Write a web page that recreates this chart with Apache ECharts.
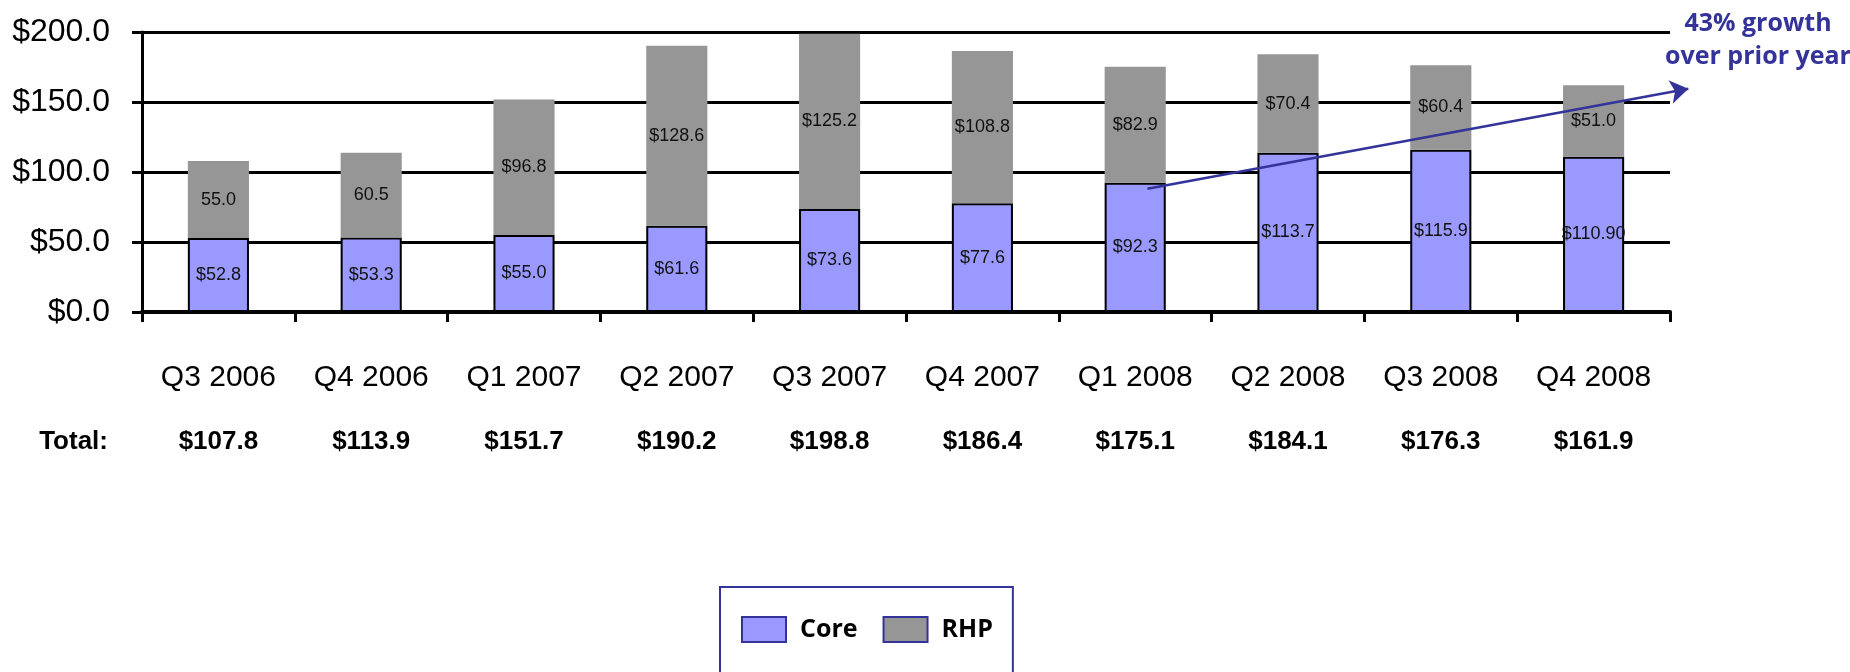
<!DOCTYPE html>
<html>
<head>
<meta charset="utf-8">
<script src="https://cdn.jsdelivr.net/npm/echarts@6/dist/echarts.min.js"></script>
<style>
html,body{margin:0;padding:0;background:#fff;}
#chart{width:1850px;height:672px;}
</style>
</head>
<body>
<div id="chart"></div>
<script>
const categories = ['Q3 2006','Q4 2006','Q1 2007','Q2 2007','Q3 2007','Q4 2007','Q1 2008','Q2 2008','Q3 2008','Q4 2008'];
const coreValues = [52.8, 53.3, 55.0, 61.6, 73.6, 77.6, 92.3, 113.7, 115.9, 110.9];
const rhpValues = [55.0, 60.5, 96.8, 128.6, 125.2, 108.8, 82.9, 70.4, 60.4, 51.0];
const coreLabels = ['$52.8','$53.3','$55.0','$61.6','$73.6','$77.6','$92.3','$113.7','$115.9','$110.90'];
const rhpLabels = ['55.0','60.5','$96.8','$128.6','$125.2','$108.8','$82.9','$70.4','$60.4','$51.0'];
const totalLabels = ['$107.8','$113.9','$151.7','$190.2','$198.8','$186.4','$175.1','$184.1','$176.3','$161.9'];
const yTicks = [0, 50, 100, 150, 200];
// growth arrow: [category position, value]
const arrowStart = [6.08, 88];
const arrowEnd = [9.62, 159.5];
const growthText = '43% growth\nover prior year';

const NARROW = "'Liberation Sans Narrow','Arial Narrow','Liberation Sans',Arial,sans-serif";
const chart = echarts.init(document.getElementById('chart'));
chart.setOption({
  animation: false,
  backgroundColor: '#fff',
  title: {
    text: growthText,
    left: 1753,
    textAlign: 'center',
    top: 2,
    textStyle: {fontFamily: "'Open Sans',sans-serif", fontWeight: 'bold', fontSize: 25, lineHeight: 33, color: '#333399'}
  },
  legend: {
    left: 720, top: 587,
    orient: 'horizontal',
    borderColor: '#333399', borderWidth: 2,
    padding: [29, 20, 40, 21],
    itemWidth: 44, itemHeight: 25, itemGap: 25,
    icon: 'rect',
    itemStyle: {borderColor: '#333399', borderWidth: 2},
    textStyle: {fontFamily: "'Open Sans',sans-serif", fontWeight: 'bold', fontSize: 25, color: '#000', padding: [0,0,0,9]},
    data: ['Core', 'RHP']
  },
  grid: {left: 142, right: 180, top: 32, bottom: 360, containLabel: false},
  xAxis: [
    {
      type: 'category', data: categories, position: 'bottom',
      axisLine: {lineStyle: {color: '#000', width: 4}},
      axisTick: {show: true, length: 10, lineStyle: {color: '#000', width: 3}},
      axisLabel: {fontFamily: NARROW, fontSize: 30, lineHeight: 30, color: '#000', margin: 51, interval: 0}
    },
    {
      type: 'category', data: totalLabels, position: 'bottom', offset: 130,
      axisLine: {show: false}, axisTick: {show: false},
      axisLabel: {fontFamily: "'Liberation Sans',Arial,sans-serif", fontWeight: 'bold', fontSize: 26, color: '#000', margin: 0, verticalAlign: 'middle', interval: 0},
      name: 'Total:', nameLocation: 'start', nameGap: 34,
      nameTextStyle: {fontFamily: "'Liberation Sans',Arial,sans-serif", fontWeight: 'bold', fontSize: 26, color: '#000', align: 'right', verticalAlign: 'middle'}
    },
    {type: 'value', min: -0.5, max: 9.5, show: false}
  ],
  yAxis: {
    type: 'value', min: yTicks[0], max: yTicks[yTicks.length - 1], interval: 50,
    axisLine: {show: true, onZero: false, lineStyle: {color: '#000', width: 3}},
    axisTick: {show: true, length: 10, lineStyle: {color: '#000', width: 3}},
    splitLine: {show: true, lineStyle: {color: '#000', width: 3}},
    axisLabel: {fontFamily: NARROW, fontSize: 32, color: '#000', margin: 32, formatter: v => '$' + v.toFixed(1)}
  },
  series: [
    {
      name: 'Core', type: 'bar', stack: 'total', barWidth: '40%',
      xAxisIndex: 0,
      data: coreValues,
      itemStyle: {color: '#9999ff', borderColor: '#000', borderWidth: 2},
      label: {show: true, position: 'inside', fontFamily: NARROW, fontSize: 18, color: '#111',
        formatter: p => coreLabels[p.dataIndex]}
    },
    {
      name: 'RHP', type: 'bar', stack: 'total', barWidth: '40%',
      xAxisIndex: 0,
      data: rhpValues,
      itemStyle: {color: '#969696', borderWidth: 0},
      label: {show: true, position: 'inside', fontFamily: NARROW, fontSize: 18, color: '#111',
        formatter: p => rhpLabels[p.dataIndex]}
    },
    {
      name: 'growth', type: 'lines', coordinateSystem: 'cartesian2d',
      xAxisIndex: 2, yAxisIndex: 0, clip: false, z: 10,
      symbol: ['none', 'arrow'], symbolSize: 18,
      lineStyle: {color: '#333399', width: 2.5, opacity: 1},
      data: [{coords: [arrowStart, arrowEnd]}]
    }
  ]
});
</script>
</body>
</html>
